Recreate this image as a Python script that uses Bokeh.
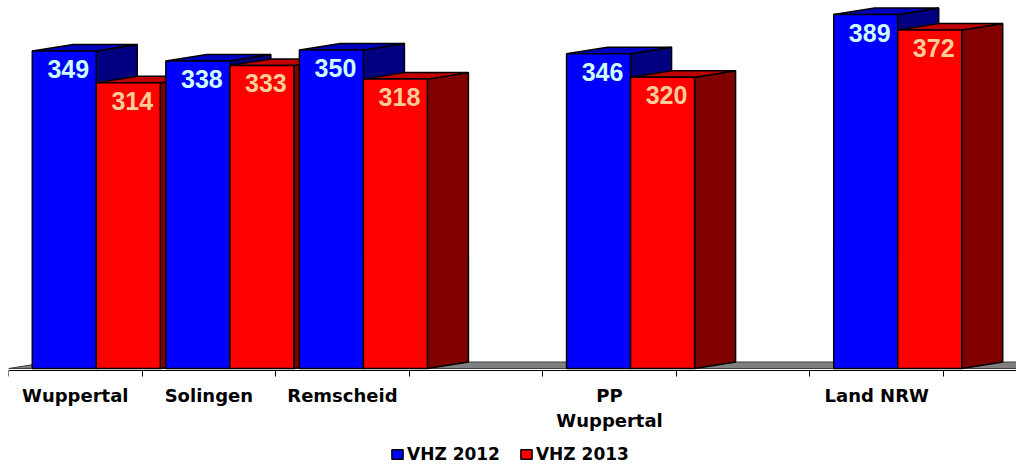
from bokeh.plotting import figure
from bokeh.models import (ColumnDataSource, Range1d, FixedTicker, LinearAxis,
                          Legend, LegendItem)
from bokeh.core.properties import value
from bokeh.embed import file_html
from bokeh.resources import INLINE

# ---- data ----
categories = ["Wuppertal", "Solingen", "Remscheid", "", "PP\nWuppertal", "", "Land NRW"]
series_names = ["VHZ 2012", "VHZ 2013"]
vhz_2012 = [349, 338, 350, None, 346, None, 389]
vhz_2013 = [314, 333, 318, None, 320, None, 372]

# ---- styling / geometry constants (pixels -> data units) ----
W, H = 1016, 466
LEFT = 8                   # frame left border
CAT_PX = 133.57            # pixels per category
PX_PER_VAL = 0.91          # pixels per value unit
ZERO_PX = 368              # pixel row of value 0 (from top)

x_start = -0.5
x_end = x_start + (W - LEFT) / CAT_PX
y_start = -(H - ZERO_PX) / PX_PER_VAL
y_end = ZERO_PX / PX_PER_VAL
axis_y = -2 / PX_PER_VAL

bar_w = 64 / CAT_PX
blue_off = -43 / CAT_PX
dx = 41 / CAT_PX
dy = 6.5 / PX_PER_VAL

face_colors = {
    "VHZ 2012": ("#0000FF", "#0000C0", "#000080"),
    "VHZ 2013": ("#FF0000", "#C00000", "#800000"),
}
label_colors = {"VHZ 2012": "#CCFFFF", "VHZ 2013": "#FFCC99"}

p = figure(width=W, height=H, output_backend="svg", toolbar_location=None,
           x_range=Range1d(x_start, x_end), y_range=Range1d(y_start, y_end),
           min_border_left=LEFT, min_border_right=0, min_border_top=0,
           min_border_bottom=0, x_axis_location=None, y_axis_location=None)
p.outline_line_color = None
p.grid.visible = False
p.background_fill_color = "white"
p.border_fill_color = "white"

# floor
fx0, fx1 = x_start, x_end + 1
p.patch([fx0, fx1, fx1 + dx, fx0 + dx], [0, 0, dy, dy],
        fill_color="#808080", line_color="#404040", line_width=1)

# bars as 3D boxes (side, top, front), drawn back-to-front
xs, ys, fills = [], [], []
lx, ly, ltxt, lcol = [], [], [], []
front_index = {}
for i, cat in enumerate(categories):
    for s, vals in zip(series_names, (vhz_2012, vhz_2013)):
        v = vals[i]
        if v is None:
            continue
        k = series_names.index(s)
        x0 = i + blue_off + k * bar_w
        x1 = x0 + bar_w
        front, top, side = face_colors[s]
        xs.append([x1, x1 + dx, x1 + dx, x1]); ys.append([0, dy, v + dy, v]); fills.append(side)
        xs.append([x0, x1, x1 + dx, x0 + dx]); ys.append([v, v, v + dy, v + dy]); fills.append(top)
        xs.append([x0, x1, x1, x0]); ys.append([0, 0, v, v]); fills.append(front)
        front_index.setdefault(s, len(xs) - 1)
        lx.append((x0 + x1) / 2 + 4 / CAT_PX)
        ly.append(v - 18 / PX_PER_VAL)
        ltxt.append(str(v))
        lcol.append(label_colors[s])

src = ColumnDataSource(dict(xs=xs, ys=ys, fill=fills))
bars = p.patches("xs", "ys", source=src, fill_color="fill", line_color="black", line_width=1.5)

lsrc = ColumnDataSource(dict(x=lx, y=ly, t=ltxt, c=lcol))
p.text("x", "y", text="t", source=lsrc, text_color="c", text_align="center",
       text_baseline="middle", text_font=value("Liberation Sans"),
       text_font_size="25px", text_font_style="bold")

# x axis: labels at category centres, tick marks at category boundaries
label_ticks = [i for i, c in enumerate(categories) if c]
xaxis = LinearAxis(ticker=FixedTicker(ticks=label_ticks,
                                      minor_ticks=[x_start + k for k in range(len(categories) + 1)]),
                   fixed_location=axis_y)
xaxis.major_label_overrides = {i: categories[i] for i in label_ticks}
xaxis.major_tick_out = 0
xaxis.major_tick_in = 0
xaxis.minor_tick_out = 6
xaxis.minor_tick_in = 0
xaxis.minor_tick_line_color = "black"
xaxis.axis_line_color = "black"
xaxis.major_label_standoff = 8
xaxis.major_label_text_font = "DejaVu Sans"
xaxis.major_label_text_font_style = "bold"
xaxis.major_label_text_font_size = "18px"
xaxis.major_label_text_color = "black"
p.add_layout(xaxis, "below")

# legend (uses the front faces of the bars as legend glyphs)
items = [LegendItem(label=s, renderers=[bars], index=front_index[s]) for s in series_names]
legend = Legend(items=items, orientation="horizontal", location=(382, 2),
                padding=0, margin=0, spacing=19, glyph_width=14, glyph_height=12,
                label_standoff=3, label_text_font="DejaVu Sans", label_text_font_style="bold",
                label_text_font_size="17px", label_text_color="black", label_height=14,
                background_fill_alpha=0, border_line_alpha=0)
p.add_layout(legend, "center")

open("out.html", "w").write(file_html(p, INLINE))
